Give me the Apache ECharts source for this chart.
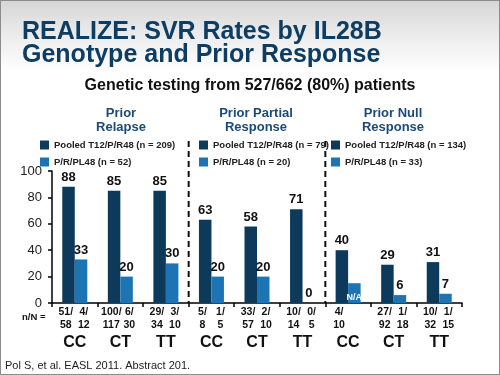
<!DOCTYPE html>
<html>
<head>
<meta charset="utf-8">
<script src="https://cdn.jsdelivr.net/npm/echarts@6/dist/echarts.min.js"></script>
<style>
  html, body { margin: 0; padding: 0; }
  #chart {
    width: 500px;
    height: 375px;
    background: linear-gradient(to bottom, #d6d6d6 0px, #eeeeee 40px, #ffffff 72px);
    box-shadow: inset 0 0 0 1px #8c8c8c;
  }
</style>
</head>
<body>
<div id="chart"></div>
<script>
// Genotype under each bar pair
const genotypes = ['CC', 'CT', 'TT', 'CC', 'CT', 'TT', 'CC', 'CT', 'TT'];

// SVR % per arm
const pooledSvr = [88, 85, 85, 63, 58, 71, 40, 29, 31];
const controlSvr = [33, 20, 30, 20, 20, 0, 15, 6, 7];
// label shown instead of the number (N/A bar)
const controlLabelText = [null, null, null, null, null, null, 'N/A', null, null];

// n/N under the axis
const pooledN = ['51/', '100/', '29/', '5/', '33/', '10/', '4/', '27/', '10/'];
const pooledTotal = ['58', '117', '34', '8', '57', '14', '10', '92', '32'];
const controlN = ['4/', '6/', '3/', '1/', '2/', '0/', '', '1/', '1/'];
const controlTotal = ['12', '30', '10', '5', '10', '5', '', '18', '15'];

// response groups: which categories they cover + legend names
const groupTitles = ['Prior\nRelapse', 'Prior Partial\nResponse', 'Prior Null\nResponse'];
const groupRanges = [[0, 2], [3, 5], [6, 8]];
const pooledNames = ['Pooled T12/P/R48 (n = 209)', 'Pooled T12/P/R48 (n = 79)', 'Pooled T12/P/R48 (n = 134)'];
const controlNames = ['P/R/PL48 (n = 52)', 'P/R/PL48 (n = 20)', 'P/R/PL48 (n = 33)'];

const DARK = '#0d3a5b';
const LIGHT = '#1c74b4';

const chart = echarts.init(document.getElementById('chart'), null, { renderer: 'canvas' });

function pick(arr, range, labels) {
  return arr.map((v, i) => {
    if (i < range[0] || i > range[1]) return '-';
    if (labels && labels[i]) {
      return {
        value: v,
        label: {
          position: 'insideBottom', distance: 1, formatter: labels[i],
          color: '#ffffff', fontSize: 9, fontWeight: 'bold'
        }
      };
    }
    return v;
  });
}

const valueLabel = {
  show: true, position: 'top', distance: 3,
  color: '#111', fontSize: 13, fontWeight: 'bold'
};

const series = [];
groupRanges.forEach((range, g) => {
  series.push({
    name: pooledNames[g], type: 'bar', stack: 'pooled',
    barWidth: 12.5, barGap: '0%',
    itemStyle: { color: DARK },
    label: valueLabel,
    data: pick(pooledSvr, range)
  });
  series.push({
    name: controlNames[g], type: 'bar', stack: 'control',
    barWidth: 12.5, barGap: '0%',
    itemStyle: { color: LIGHT },
    label: valueLabel,
    data: pick(controlSvr, range, controlLabelText)
  });
});

const legendLefts = [40, 199, 331];
const groupCenters = [121, 256, 393];

const option = {
  backgroundColor: 'transparent',
  animation: false,
  textStyle: { fontFamily: 'Liberation Sans, Arial, sans-serif' },
  title: [
    {
      text: 'REALIZE: SVR Rates by IL28B\nGenotype and Prior Response',
      left: 22, top: 21, padding: 0,
      textStyle: { color: '#0d3d63', fontSize: 25, fontWeight: 'bold', lineHeight: 23 }
    },
    {
      text: 'Genetic testing from 527/662 (80%) patients',
      left: 'center', top: 78, padding: 0,
      textStyle: { color: '#111', fontSize: 16, fontWeight: 'bold' }
    },
    ...groupTitles.map((t, g) => ({
      text: t,
      left: groupCenters[g], top: 106, padding: 0,
      textAlign: 'center',
      textStyle: { color: '#1a4a78', fontSize: 13, fontWeight: 'bold', lineHeight: 14 }
    })),
    {
      text: 'n/N =',
      left: 22, top: 312, padding: 0,
      textStyle: { color: '#111', fontSize: 9.5, fontWeight: 'bold' }
    },
    {
      text: 'Pol S, et al. EASL 2011. Abstract 201.',
      left: 5, top: 360, padding: 0,
      textStyle: { color: '#222', fontSize: 11, fontWeight: 'normal' }
    }
  ],
  legend: groupRanges.map((r, g) => ({
    orient: 'vertical',
    left: legendLefts[g], top: 140, padding: 0,
    itemWidth: 9, itemHeight: 9, itemGap: 7,
    icon: 'rect',
    selectedMode: false,
    textStyle: { color: '#222', fontSize: 9.5, fontWeight: 'bold' },
    data: [pooledNames[g], controlNames[g]]
  })),
  grid: { left: 52, right: 38, top: 171, bottom: 72 },
  xAxis: {
    type: 'category',
    data: genotypes,
    axisLine: { lineStyle: { color: '#000', width: 1.5 } },
    axisTick: { show: true, length: 4, lineStyle: { color: '#000', width: 1.5 } },
    axisLabel: {
      interval: 0,
      margin: 3,
      formatter: function (v, i) {
        return '{n|' + pooledN[i] + '}{n|' + (controlN[i] || ' ') + '}\n' +
          '{n|' + pooledTotal[i] + '}{n|' + (controlTotal[i] || ' ') + '}\n' +
          '{g|' + v + '}';
      },
      rich: {
        n: { fontSize: 10.5, fontWeight: 'bold', color: '#111', width: 18, align: 'center', lineHeight: 13 },
        g: { fontSize: 16, fontWeight: 'bold', color: '#111', lineHeight: 22 }
      }
    }
  },
  yAxis: {
    type: 'value',
    min: 0, max: 100, interval: 20,
    splitLine: { show: false },
    axisLine: { show: true, lineStyle: { color: '#000', width: 1.5 } },
    axisTick: { show: true, length: 4, lineStyle: { color: '#000', width: 1.5 } },
    axisLabel: { color: '#222', fontSize: 13, margin: 10 }
  },
  series: series
};

chart.setOption(option);

// dashed separators between the response groups
const yBase = chart.convertToPixel({ yAxisIndex: 0 }, 0);
const sepLines = [2, 5].map(function (i) {
  const x = (chart.convertToPixel({ xAxisIndex: 0 }, i) + chart.convertToPixel({ xAxisIndex: 0 }, i + 1)) / 2;
  return {
    type: 'line',
    shape: { x1: x, y1: 141, x2: x, y2: yBase },
    style: { stroke: '#111', lineWidth: 2, lineDash: [6, 4] },
    z: 1
  };
});
chart.setOption({ graphic: sepLines });
</script>
</body>
</html>
